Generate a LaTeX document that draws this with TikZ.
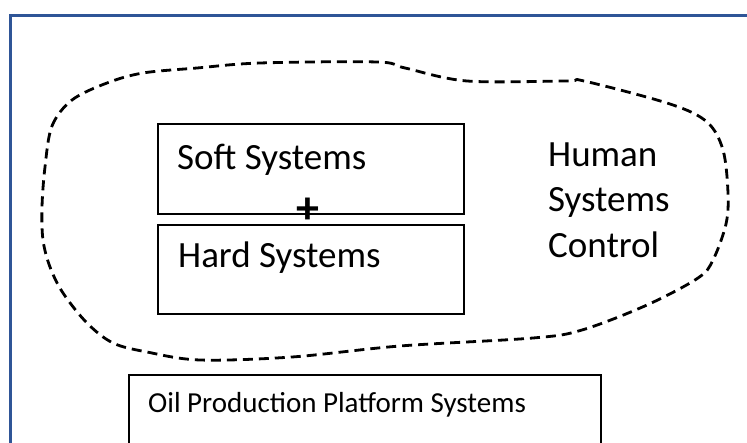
\documentclass[tikz,border=0pt]{standalone}
\usepackage{fontspec}
\setmainfont{Carlito}
\definecolor{frameblue}{RGB}{47,85,151}
\tikzset{
  sysbox/.style={draw=black, line width=2pt, fill=white, inner sep=0pt},
  biglabel/.style={anchor=base west, inner sep=0pt, font=\fontsize{37}{45}\selectfont},
  smalllabel/.style={anchor=base west, inner sep=0pt, font=\fontsize{29}{35}\selectfont},
  boundary/.style={draw=black, line width=2.8pt, dash pattern=on 10pt off 6pt}
}
\begin{document}
\begin{tikzpicture}[x=1pt, y=-1pt]
  \useasboundingbox (0,0) rectangle (747,443);
  \clip (0,0) rectangle (747,443);

  % outer frame, open to the right and bottom
  \draw[frameblue, line width=3pt] (10,460) -- (10,16) -- (760,16);

  % boundary of the human-systems-control region
  \draw[boundary] plot[smooth cycle, tension=0.55] coordinates {
    (45,167) (52,126) (72,100) (107,83) (143,73) (197,68) (260,63)
    (377,62) (405,68) (467,81) (567,81) (584,81) (670,104) (707,122)
    (723,150) (728,193) (726,224) (713,260) (698,278) (647,305)
    (582,330) (533,338) (400,346) (292,357) (200,360) (147,352)
    (113,343) (87,323) (63,293) (50,267) (43,240) (42,207)};

  % soft and hard systems boxes
  \node[sysbox, minimum width=306pt, minimum height=90pt, anchor=north west] (soft) at (157,123) {};
  \node[sysbox, minimum width=306pt, minimum height=89pt, anchor=north west] (hard) at (157,224) {};
  \node[biglabel] (softlbl) at (177,170) {Soft Systems};
  \node[biglabel] (hardlbl) at (178,268) {Hard Systems};
  \node[inner sep=0pt, font=\fontsize{46}{46}\bfseries] (plus) at (308,211) {+};

  % human systems control label
  \node[biglabel] (hsc1) at (548,167) {Human};
  \node[biglabel] (hsc2) at (548,212) {Systems};
  \node[biglabel] (hsc3) at (548,258) {Control};

  % platform box, running off the bottom edge
  \node[sysbox, minimum width=472pt, minimum height=100pt, anchor=north west] (oil) at (128,374) {};
  \node[smalllabel] (oillbl) at (148,413) {Oil Production Platform Systems};
\end{tikzpicture}
\end{document}
